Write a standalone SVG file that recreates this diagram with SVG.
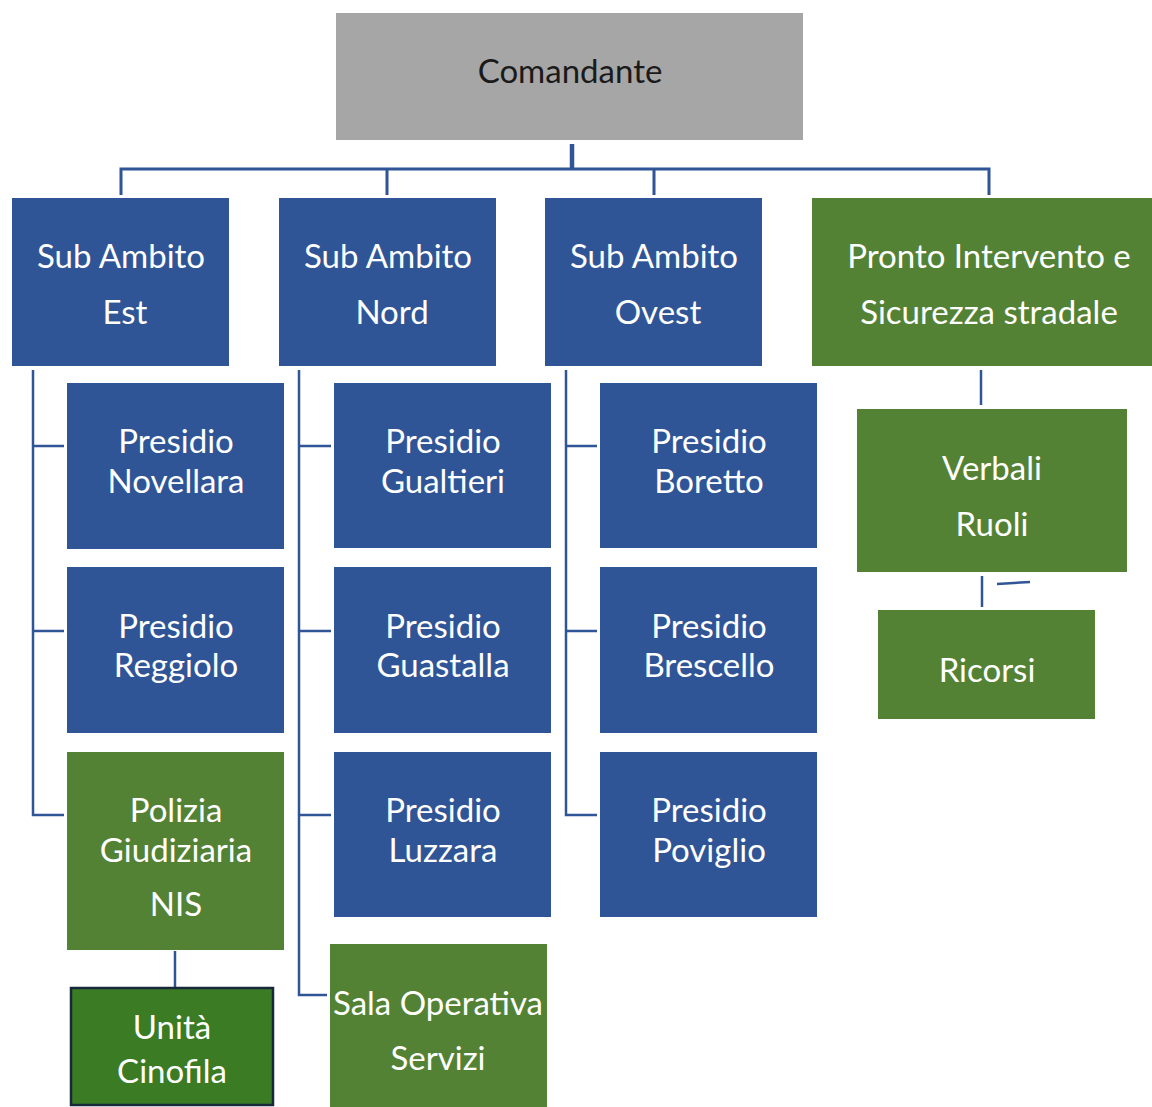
<svg xmlns="http://www.w3.org/2000/svg" width="1152" height="1107" viewBox="0 0 1152 1107">
<style>
.blue{fill:#2f5597}
.green{fill:#548235}
.t{font-family:Lato,"Open Sans","Liberation Sans",sans-serif;font-size:33px;fill:#ffffff;text-anchor:middle;dominant-baseline:central}
.dk{fill:#1a1a1a}
.ln{stroke:#2f5597;stroke-width:2.5;fill:none}
</style>
<rect width="1152" height="1107" fill="#ffffff"/>
<g id="connectors">
<path class="ln" d="M572 144V168" style="stroke-width:4.5"/>
<path class="ln" d="M121 195V169H989V195M387 169V195M654 169V195" style="stroke-width:3"/>
<path class="ln" d="M33 370V815H64M33 446H64M33 631H64"/>
<path class="ln" d="M299 370V995H327M299 446H331M299 631H331M299 815H331"/>
<path class="ln" d="M566 370V815H597M566 446H597M566 631H597"/>
<path class="ln" d="M175 951V987"/>
<path class="ln" d="M981 370V405"/>
<path class="ln" d="M982 576V607M997 584L1030 582"/>
</g>
<g id="comandante"><rect x="336" y="13" width="467" height="127" fill="#a6a6a6"/><text class="t dk" x="570" y="70">Comandante</text></g>
<g id="sub-est"><rect class="blue" x="12" y="198" width="217" height="168"/><text class="t" x="121" y="255">Sub Ambito</text><text class="t" x="125" y="311">Est</text></g>
<g id="sub-nord"><rect class="blue" x="279" y="198" width="217" height="168"/><text class="t" x="388" y="255">Sub Ambito</text><text class="t" x="392" y="311">Nord</text></g>
<g id="sub-ovest"><rect class="blue" x="545" y="198" width="217" height="168"/><text class="t" x="654" y="255">Sub Ambito</text><text class="t" x="658" y="311">Ovest</text></g>
<g id="pronto"><rect class="green" x="812" y="198" width="340" height="168"/><text class="t" x="989" y="255">Pronto Intervento e</text><text class="t" x="989" y="311">Sicurezza stradale</text></g>
<g id="novellara"><rect class="blue" x="67" y="383" width="217" height="166"/><text class="t" x="176" y="440">Presidio</text><text class="t" x="176" y="480">Novellara</text></g>
<g id="reggiolo"><rect class="blue" x="67" y="567" width="217" height="166"/><text class="t" x="176" y="625">Presidio</text><text class="t" x="176" y="664">Reggiolo</text></g>
<g id="polizia"><rect class="green" x="67" y="752" width="217" height="198"/><text class="t" x="176" y="809">Polizia</text><text class="t" x="176" y="849">Giudiziaria</text><text class="t" x="176" y="903">NIS</text></g>
<g id="cinofila"><rect x="71" y="988" width="202" height="117" fill="#3b7b24" stroke="#16283a" stroke-width="2.5"/><text class="t" x="172" y="1026">Unità</text><text class="t" x="172" y="1070">Cinofila</text></g>
<g id="gualtieri"><rect class="blue" x="334" y="383" width="217" height="165"/><text class="t" x="443" y="440">Presidio</text><text class="t" x="443" y="480">Gualtieri</text></g>
<g id="guastalla"><rect class="blue" x="334" y="567" width="217" height="166"/><text class="t" x="443" y="625">Presidio</text><text class="t" x="443" y="664">Guastalla</text></g>
<g id="luzzara"><rect class="blue" x="334" y="752" width="217" height="165"/><text class="t" x="443" y="809">Presidio</text><text class="t" x="443" y="849">Luzzara</text></g>
<g id="sala"><rect class="green" x="330" y="944" width="217" height="163"/><text class="t" x="438" y="1002">Sala Operativa</text><text class="t" x="438" y="1057">Servizi</text></g>
<g id="boretto"><rect class="blue" x="600" y="383" width="217" height="165"/><text class="t" x="709" y="440">Presidio</text><text class="t" x="709" y="480">Boretto</text></g>
<g id="brescello"><rect class="blue" x="600" y="567" width="217" height="166"/><text class="t" x="709" y="625">Presidio</text><text class="t" x="709" y="664">Brescello</text></g>
<g id="poviglio"><rect class="blue" x="600" y="752" width="217" height="165"/><text class="t" x="709" y="809">Presidio</text><text class="t" x="709" y="849">Poviglio</text></g>
<g id="verbali"><rect class="green" x="857" y="409" width="270" height="163"/><text class="t" x="992" y="467">Verbali</text><text class="t" x="992" y="523">Ruoli</text></g>
<g id="ricorsi"><rect class="green" x="878" y="610" width="217" height="109"/><text class="t" x="987" y="669">Ricorsi</text></g>
</svg>
